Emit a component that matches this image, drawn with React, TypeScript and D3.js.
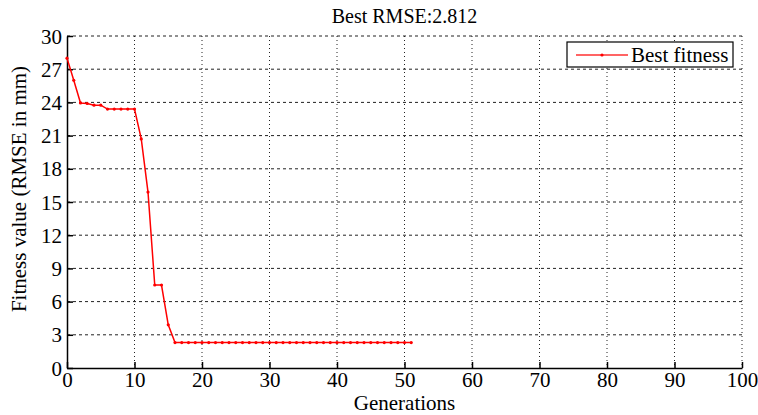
import { useEffect, useRef } from "react";
import * as d3 from "d3";

// generation index and best fitness (RMSE in mm)
const generations = d3.range(0, 52);
const fitnessHead = [28.0, 26.0, 23.95, 23.9, 23.75, 23.75, 23.4, 23.4, 23.4, 23.4, 23.4, 20.7, 15.9, 7.5, 7.5, 3.9];
const fitnessTail = 2.3;
const fitness = generations.map((g) => (g < fitnessHead.length ? fitnessHead[g] : fitnessTail));

const xTicks = d3.range(0, 101, 10);
const yTicks = d3.range(0, 31, 3);
const titleText = "Best RMSE:2.812";
const xLabel = "Generations";
const yLabel = "Fitness value (RMSE in mm)";
const legendLabel = "Best fitness";

const FONT = '"Liberation Serif", "Times New Roman", Times, serif';

export default function App() {
  const svgRef = useRef<SVGSVGElement>(null);
  const width = 758;
  const height = 415;

  useEffect(() => {
    if (!svgRef.current) return;
    const svg = d3.select(svgRef.current);
    svg.selectAll("*").remove();

    const margin = { top: 36, right: 16, bottom: 47, left: 67 };
    const innerWidth = width - margin.left - margin.right;
    const innerHeight = height - margin.top - margin.bottom;

    svg.append("rect").attr("width", width).attr("height", height).attr("fill", "#fff");

    const g = svg.append("g").attr("transform", `translate(${margin.left},${margin.top})`);

    const x = d3.scaleLinear().domain([0, 100]).range([0, innerWidth]);
    const y = d3.scaleLinear().domain([0, 30]).range([innerHeight, 0]);

    // dotted grid
    g.selectAll(".vgrid")
      .data(xTicks.slice(1))
      .enter()
      .append("line")
      .attr("x1", (d) => x(d))
      .attr("x2", (d) => x(d))
      .attr("y1", 0)
      .attr("y2", innerHeight)
      .attr("stroke", "#222")
      .attr("stroke-width", 1)
      .attr("stroke-dasharray", "1,3");
    g.selectAll(".hgrid")
      .data(yTicks.slice(1))
      .enter()
      .append("line")
      .attr("x1", 0)
      .attr("x2", innerWidth)
      .attr("y1", (d) => y(d))
      .attr("y2", (d) => y(d))
      .attr("stroke", "#222")
      .attr("stroke-width", 1)
      .attr("stroke-dasharray", "3,3");

    // axes with inward ticks
    const xAxis = g
      .append("g")
      .attr("transform", `translate(0,${innerHeight})`)
      .call(d3.axisBottom(x).tickValues(xTicks).tickSizeInner(-6).tickSizeOuter(0).tickPadding(4));
    const yAxis = g
      .append("g")
      .call(d3.axisLeft(y).tickValues(yTicks).tickSizeInner(-6).tickSizeOuter(0).tickPadding(5));

    [xAxis, yAxis].forEach((ax) => {
      ax.attr("font-family", null).attr("font-size", null);
      ax.select(".domain").attr("stroke", "#000").attr("stroke-width", 1.5);
      ax.selectAll(".tick line").attr("stroke", "#000").attr("stroke-width", 1.5);
      ax.selectAll("text")
        .attr("fill", "#000")
        .style("font-family", FONT)
        .style("font-size", "21px");
    });
    yAxis.selectAll("text").attr("dy", "0.34em");
    xAxis.selectAll("text").attr("y", 4).attr("dy", "0.71em");

    // line
    const line = d3
      .line<number>()
      .x((_, i) => x(generations[i]))
      .y((d) => y(d));
    g.append("path")
      .datum(fitness)
      .attr("d", line)
      .attr("fill", "none")
      .attr("stroke", "#ff0000")
      .attr("stroke-width", 1.5);
    g.selectAll(".dot")
      .data(fitness)
      .enter()
      .append("circle")
      .attr("cx", (_, i) => x(generations[i]))
      .attr("cy", (d) => y(d))
      .attr("r", 1.6)
      .attr("fill", "#ff0000");

    // title and labels
    svg.append("text")
      .attr("x", margin.left + innerWidth / 2)
      .attr("y", 23)
      .attr("text-anchor", "middle")
      .style("font-family", FONT)
      .style("font-size", "20px")
      .text(titleText);
    svg.append("text")
      .attr("x", margin.left + innerWidth / 2)
      .attr("y", 410)
      .attr("text-anchor", "middle")
      .style("font-family", FONT)
      .style("font-size", "21px")
      .text(xLabel);
    svg.append("text")
      .attr("transform", "translate(26,189) rotate(-90)")
      .attr("text-anchor", "middle")
      .style("font-family", FONT)
      .style("font-size", "21px")
      .text(yLabel);

    // legend
    const lg = svg.append("g").attr("transform", "translate(567,42)");
    lg.append("rect")
      .attr("width", 166)
      .attr("height", 25)
      .attr("fill", "#fff")
      .attr("stroke", "#000")
      .attr("stroke-width", 1.2);
    lg.append("line")
      .attr("x1", 9)
      .attr("x2", 61)
      .attr("y1", 13)
      .attr("y2", 13)
      .attr("stroke", "#ff3030")
      .attr("stroke-width", 1.5);
    lg.append("circle").attr("cx", 35).attr("cy", 13).attr("r", 1.6).attr("fill", "#ff0000");
    lg.append("text")
      .attr("x", 64)
      .attr("y", 19.7)
      .style("font-family", FONT)
      .style("font-size", "21px")
      .text(legendLabel);
  }, []);

  return (
    <svg
      ref={svgRef}
      width={width}
      height={height}
      style={{ position: "absolute", left: 0, top: 0, display: "block" }}
    />
  );
}
